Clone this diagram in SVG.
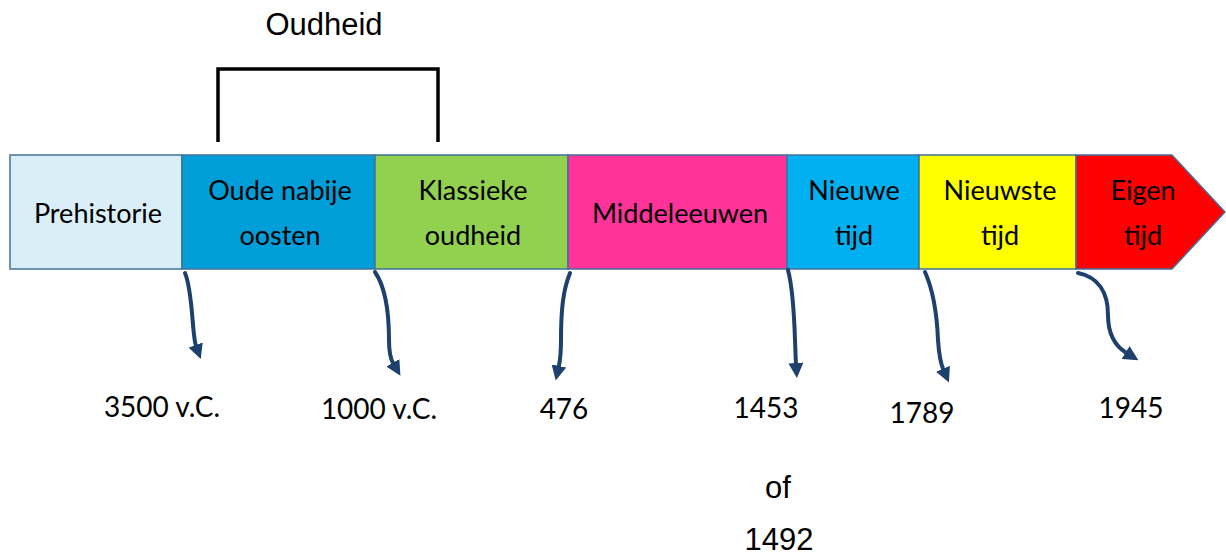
<svg xmlns="http://www.w3.org/2000/svg" width="1226" height="556" viewBox="0 0 1226 556">
  <style>
    .box { stroke: #41719C; stroke-width: 1.5; }
    .bt { font-family: Lato, "Open Sans", sans-serif; font-size: 27px; fill: #000; text-anchor: middle; }
    .yr { font-family: Lato, "Open Sans", sans-serif; font-size: 28px; fill: #000; text-anchor: middle; }
    .ar { font-family: "Liberation Sans", Arial, sans-serif; font-size: 31px; fill: #000; text-anchor: middle; }
    .con { fill: none; stroke: #1D406D; stroke-width: 4; stroke-linecap: round; marker-end: url(#ah); }
  </style>
  <defs>
    <marker id="ah" viewBox="0 0 14 14" refX="1" refY="7" markerWidth="15" markerHeight="15" markerUnits="userSpaceOnUse" orient="auto">
      <path d="M0,0 L14,7 L0,14 z" fill="#1D406D"/>
    </marker>
  </defs>
  <rect width="1226" height="556" fill="#fff"/>

  <g id="oudheid-bracket">
    <text class="ar" x="324" y="35">Oudheid</text>
    <path d="M218,142 L218,69 L438,69 L438,142" fill="none" stroke="#000" stroke-width="3.5"/>
  </g>

  <g id="prehistorie">
    <rect class="box" x="10" y="155" width="172" height="114" fill="#DAEEF8"/>
    <text class="bt" x="98" y="223">Prehistorie</text>
  </g>
  <g id="oude-nabije-oosten">
    <rect class="box" x="182" y="155" width="193" height="114" fill="#009ED9"/>
    <text class="bt" x="280" y="200">Oude nabije</text>
    <text class="bt" x="280" y="245">oosten</text>
  </g>
  <g id="klassieke-oudheid">
    <rect class="box" x="375" y="155" width="193" height="114" fill="#92D050"/>
    <text class="bt" x="473" y="200">Klassieke</text>
    <text class="bt" x="473" y="245">oudheid</text>
  </g>
  <g id="middeleeuwen">
    <rect class="box" x="568" y="155" width="219" height="114" fill="#FF3399"/>
    <text class="bt" x="680" y="223">Middeleeuwen</text>
  </g>
  <g id="nieuwe-tijd">
    <rect class="box" x="787" y="155" width="132" height="114" fill="#00B0F0"/>
    <text class="bt" x="854" y="200">Nieuwe</text>
    <text class="bt" x="854" y="245">tijd</text>
  </g>
  <g id="nieuwste-tijd">
    <rect class="box" x="919" y="155" width="157" height="114" fill="#FFFF00"/>
    <text class="bt" x="1000" y="200">Nieuwste</text>
    <text class="bt" x="1000" y="245">tijd</text>
  </g>
  <g id="eigen-tijd">
    <polygon class="box" points="1076,155 1172,155 1225,212 1172,269 1076,269" fill="#FF0000"/>
    <text class="bt" x="1143" y="200">Eigen</text>
    <text class="bt" x="1143" y="245">tijd</text>
  </g>

  <g id="connectors">
    <path class="con" d="M185,273 C193,292 192,335 196,346"/>
    <path class="con" d="M375,272 C386,288 389,315 389,340 C389,352 390,358 393.4,363.8"/>
    <path class="con" d="M570,273 C563,290 561,310 561,340 C561,355 560,361 558.7,367"/>
    <path class="con" d="M788,270 C792,285 794,310 795,340 C795.5,352 795.6,358 796,364"/>
    <path class="con" d="M925,272 C933,290 937,315 938,340 C939,355 940,362 943.4,369.8"/>
    <path class="con" d="M1078,273 C1098,277 1108,292 1108,315 C1108,335 1115,346 1126.5,353"/>
  </g>

  <g id="dates">
    <text class="yr" x="162" y="417">3500 v.C.</text>
    <text class="yr" x="379" y="419">1000 v.C.</text>
    <text class="yr" x="564" y="419">476</text>
    <text class="yr" x="766" y="418">1453</text>
    <text class="yr" x="922" y="423">1789</text>
    <text class="yr" x="1131" y="418">1945</text>
    <text class="ar" x="778" y="498">of</text>
    <text class="ar" x="779" y="550">1492</text>
  </g>
</svg>
